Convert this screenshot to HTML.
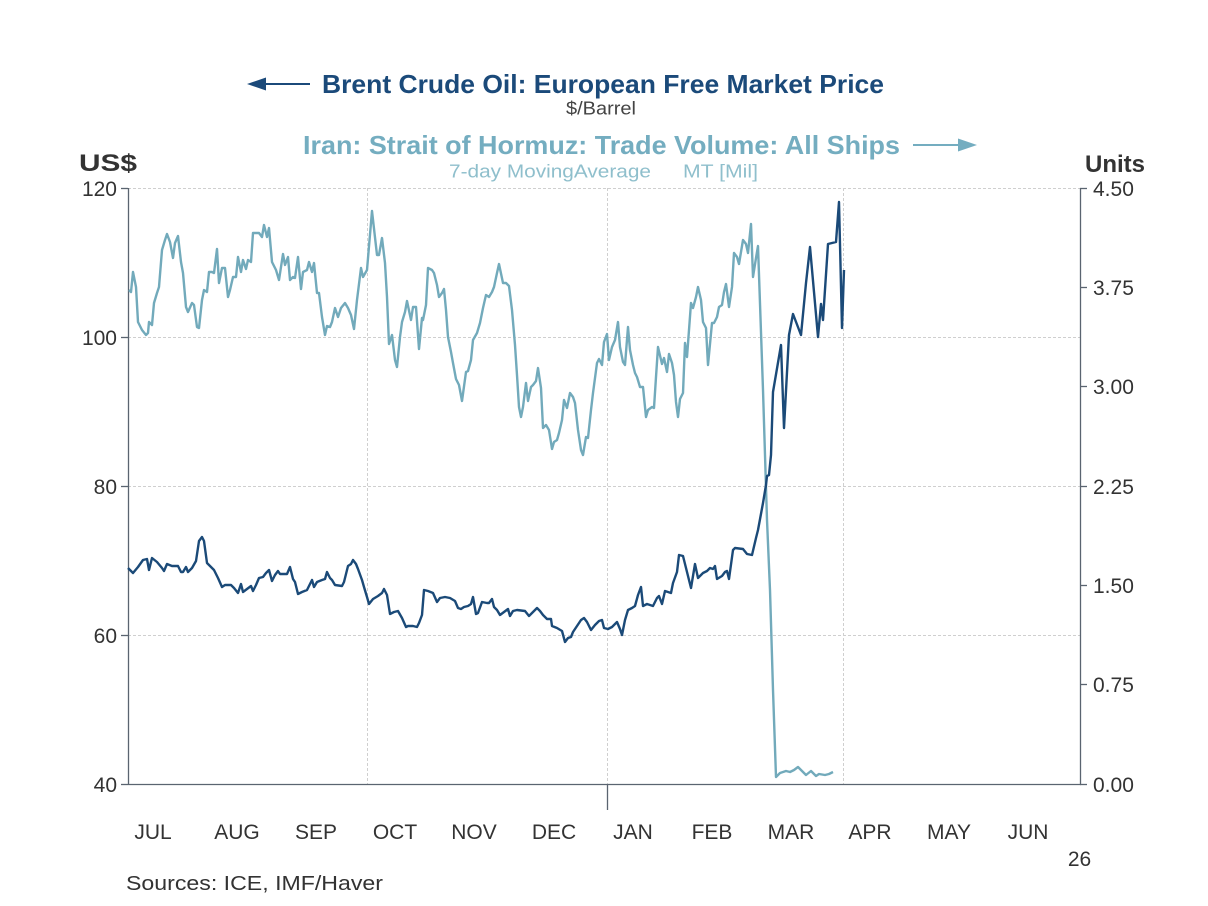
<!DOCTYPE html>
<html>
<head>
<meta charset="utf-8">
<style>
  html, body { margin: 0; padding: 0; background: #ffffff; }
  svg { display: block; }
  text { font-family: "Liberation Sans", "DejaVu Sans", sans-serif; }
</style>
</head>
<body>
<svg width="1208" height="906" viewBox="0 0 1208 906" xmlns="http://www.w3.org/2000/svg">
  <rect x="0" y="0" width="1208" height="906" fill="#ffffff"/>

  <!-- Titles -->
  <line x1="262" y1="84" x2="310" y2="84" stroke="#1b4a7a" stroke-width="2"/>
  <polygon points="247,84 266,77.5 266,90.5" fill="#1b4a7a"/>
  <text x="322" y="93" font-size="26" font-weight="bold" fill="#1b4a7a" textLength="562" lengthAdjust="spacingAndGlyphs">Brent Crude Oil: European Free Market Price</text>
  <text x="601" y="114.5" font-size="18" fill="#444444" text-anchor="middle" textLength="70" lengthAdjust="spacingAndGlyphs">$/Barrel</text>

  <text x="303" y="154" font-size="26" font-weight="bold" fill="#74adc0" textLength="597" lengthAdjust="spacingAndGlyphs">Iran: Strait of Hormuz: Trade Volume: All Ships</text>
  <line x1="913" y1="145" x2="962" y2="145" stroke="#74adc0" stroke-width="2"/>
  <polygon points="977,145 958,138.5 958,151.5" fill="#74adc0"/>
  <text x="449" y="177.5" font-size="18" fill="#8fbfcc" textLength="202" lengthAdjust="spacingAndGlyphs">7-day MovingAverage</text>
  <text x="683" y="177.5" font-size="18" fill="#8fbfcc" textLength="75" lengthAdjust="spacingAndGlyphs">MT [Mil]</text>

  <text x="79" y="171" font-size="24" font-weight="bold" fill="#333333" textLength="58" lengthAdjust="spacingAndGlyphs">US$</text>
  <text x="1085" y="172" font-size="24" font-weight="bold" fill="#333333" textLength="60" lengthAdjust="spacingAndGlyphs">Units</text>

  <!-- Gridlines -->
  <g stroke="#cfcfcf" stroke-width="1" stroke-dasharray="3,2" fill="none">
    <line x1="128" y1="188.5" x2="1080" y2="188.5"/>
    <line x1="128" y1="337.5" x2="1080" y2="337.5"/>
    <line x1="128" y1="486.5" x2="1080" y2="486.5"/>
    <line x1="128" y1="635.5" x2="1080" y2="635.5"/>
    <line x1="367.5" y1="188" x2="367.5" y2="784"/>
    <line x1="607.5" y1="188" x2="607.5" y2="784"/>
    <line x1="843.5" y1="188" x2="843.5" y2="784"/>
  </g>

  <!-- Axes -->
  <g stroke="#5a6470" stroke-width="1.3" fill="none">
    <line x1="128.5" y1="188" x2="128.5" y2="784.5"/>
    <line x1="1080.5" y1="188" x2="1080.5" y2="784.5"/>
    <line x1="128" y1="784.5" x2="1081" y2="784.5"/>
    <line x1="121" y1="188.5" x2="128" y2="188.5"/>
    <line x1="121" y1="337.5" x2="128" y2="337.5"/>
    <line x1="121" y1="486.5" x2="128" y2="486.5"/>
    <line x1="121" y1="635.5" x2="128" y2="635.5"/>
    <line x1="121" y1="784.5" x2="128" y2="784.5"/>
    <line x1="1080" y1="188.5" x2="1087" y2="188.5"/>
    <line x1="1080" y1="287.5" x2="1087" y2="287.5"/>
    <line x1="1080" y1="386.5" x2="1087" y2="386.5"/>
    <line x1="1080" y1="486.5" x2="1087" y2="486.5"/>
    <line x1="1080" y1="585.5" x2="1087" y2="585.5"/>
    <line x1="1080" y1="684.5" x2="1087" y2="684.5"/>
    <line x1="1080" y1="784.5" x2="1087" y2="784.5"/>
    <line x1="607.5" y1="784" x2="607.5" y2="810"/>
  </g>

  <!-- Left tick labels -->
  <g font-size="21" fill="#333333" text-anchor="end">
    <text x="117" y="196">120</text>
    <text x="117" y="345">100</text>
    <text x="117" y="494">80</text>
    <text x="117" y="643">60</text>
    <text x="117" y="792">40</text>
  </g>
  <!-- Right tick labels -->
  <g font-size="21" fill="#333333">
    <text x="1093" y="196">4.50</text>
    <text x="1093" y="295">3.75</text>
    <text x="1093" y="394">3.00</text>
    <text x="1093" y="494">2.25</text>
    <text x="1093" y="593">1.50</text>
    <text x="1093" y="692">0.75</text>
    <text x="1093" y="792">0.00</text>
  </g>

  <!-- Month labels -->
  <g font-size="21" fill="#333333" text-anchor="middle">
    <text x="153" y="839">JUL</text>
    <text x="237" y="839">AUG</text>
    <text x="316" y="839">SEP</text>
    <text x="395" y="839">OCT</text>
    <text x="474" y="839">NOV</text>
    <text x="554" y="839">DEC</text>
    <text x="633" y="839">JAN</text>
    <text x="712" y="839">FEB</text>
    <text x="791" y="839">MAR</text>
    <text x="870" y="839">APR</text>
    <text x="949" y="839">MAY</text>
    <text x="1028" y="839">JUN</text>
    <text x="1079.5" y="866">26</text>
  </g>

  <text x="126" y="890" font-size="20" fill="#333333" textLength="257" lengthAdjust="spacingAndGlyphs">Sources:  ICE, IMF/Haver</text>

  <!-- Hormuz series (light) -->
  <polyline fill="none" stroke="#72aabb" stroke-width="2.4" stroke-linejoin="round" points="
129,290 131,292 133,272 136,287 138,322 142,330 146,335 148,333 149,322 152,325 154,303 157,293 159,287 162,250 165,240 167,234 170,242 173,258 175,243 178,236 181,262 183,273 186,307 188,312 192,303 194,305 197,327 199,328 202,300 204,290 207,292 209,272 212,272 214,273 217,249 219,283 222,268 225,268 228,297 230,290 233,277 236,277 238,257 241,272 243,260 246,269 248,260 251,262 253,233 257,233 259,233 262,237 264,225 267,237 269,228 272,262 276,270 279,280 283,254 285,265 288,257 290,280 293,277 295,278 298,257 301,289 303,272 307,270 309,262 312,272 314,263 317,293 319,293 322,317 325,335 327,326 330,327 332,322 335,308 338,317 341,308 345,303 348,308 351,315 354,329 357,300 361,268 363,277 367,270 372,211 377,255 379,255 382,238 385,263 387,297 389,344 392,335 395,360 397,367 400,337 402,322 405,312 407,301 411,320 413,307 416,307 419,349 422,318 423,320 426,305 428,268 432,270 434,273 437,285 439,297 442,293 444,289 446,310 448,337 451,352 453,363 456,379 459,385 462,401 466,372 468,371 471,360 473,340 477,333 480,323 483,308 486,295 489,297 492,292 494,287 497,273 499,264 503,283 506,283 509,286 512,310 515,345 517,375 519,407 521,417 523,407 526,383 528,401 531,387 533,385 536,381 538,368 541,388 543,428 546,425 549,430 552,449 554,442 557,440 559,433 562,420 564,400 567,408 570,393 573,397 575,403 578,430 581,450 583,455 586,437 588,438 591,410 593,393 597,363 599,359 602,365 604,342 607,334 609,360 612,347 615,340 618,322 620,347 623,362 625,365 628,327 630,350 633,365 635,373 637,377 640,387 643,387 646,417 648,410 652,407 654,408 656,377 658,347 662,364 664,358 667,372 669,354 672,363 674,375 676,402 678,417 680,399 683,393 685,343 687,357 691,303 693,308 696,297 698,287 701,300 703,322 706,328 708,365 712,323 714,323 717,317 719,307 722,305 724,292 726,284 729,307 732,287 734,253 737,257 739,264 743,240 746,244 748,253 751,224 753,277 756,258 758,246 763,390 767,520 770,590 773,690 776,777 780,773 786,771 790,772 794,770 798,767 802,771 806,775 811,771 816,776 819,774 825,775 829,774 833,772"/>

  <!-- Brent series (dark) -->
  <polyline fill="none" stroke="#1b4a78" stroke-width="2.4" stroke-linejoin="round" points="
128,568 133,573 138,567 143,560 147,559 149,570 152,558 157,562 162,568 164,571 167,564 172,566 178,566 181,572 183,572 186,567 188,572 192,568 196,561 199,541 202,537 204,541 207,563 210,566 214,570 218,578 222,587 225,585 231,585 234,588 238,593 241,584 243,592 247,589 251,586 253,591 256,585 259,578 263,577 266,573 269,570 272,581 275,575 278,571 280,574 287,574 290,567 293,579 295,582 298,594 302,592 307,590 309,586 312,580 314,587 317,582 322,580 325,579 327,572 330,578 332,580 335,585 342,586 344,582 348,566 351,564 353,560 356,564 358,569 362,580 364,587 367,597 369,604 373,599 378,596 382,593 384,589 387,595 390,614 394,612 398,611 402,618 406,627 408,626 413,626 417,627 419,623 422,615 424,590 428,591 433,593 437,602 440,598 445,597 450,598 455,601 458,608 461,609 464,607 468,606 471,604 473,597 476,614 478,613 482,602 487,603 489,603 492,599 494,607 497,610 500,615 504,612 508,609 510,616 513,611 517,610 525,611 529,616 533,612 537,608 540,611 543,615 547,619 551,619 552,626 557,628 562,631 565,642 568,638 571,637 573,632 577,626 581,620 584,618 587,622 591,630 595,625 599,621 602,620 604,628 608,629 612,627 615,624 617,622 620,629 622,635 625,620 628,610 632,608 635,606 638,595 641,587 643,606 647,604 650,605 653,606 657,598 659,596 662,604 665,591 668,592 671,593 673,583 677,572 679,555 683,556 686,568 691,588 695,564 698,578 703,573 707,571 710,568 713,569 715,566 717,579 722,576 725,572 727,571 729,579 733,550 735,548 743,549 747,554 752,555 756,538 758,530 763,503 766,485 767,476 769,475 771,455 773,392 781,345 784,428 789,335 793,314 801,335 806,283 810,247 814,292 818,337 821,304 823,320 828,244 836,242 839,202 842,328 844,270"/>
</svg>
</body>
</html>
